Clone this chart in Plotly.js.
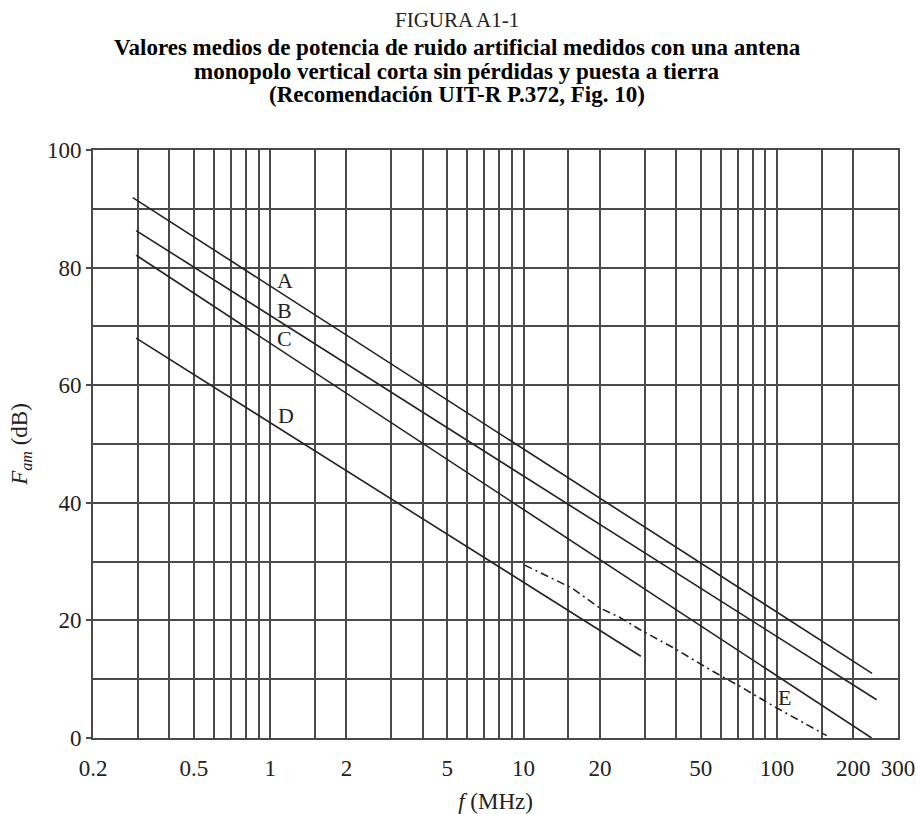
<!DOCTYPE html>
<html>
<head>
<meta charset="utf-8">
<script src="https://cdn.plot.ly/plotly-3.0.1.min.js"></script>
<style>html,body{margin:0;padding:0;background:#fff;}#chart{width:916px;height:814px;}</style>
</head>
<body>
<div id="chart"></div>
<script>
// ---- data ----
const freqA = [0.287, 237];
const famA  = [91.9, 11.0];
const freqB = [0.296, 247];
const famB  = [86.3, 6.5];
const freqC = [0.296, 236];
const famC  = [82.1, 0.0];
const freqD = [0.296, 29];
const famD  = [68.0, 13.9];
const freqE = [10.1, 15.5, 20, 24, 28.6, 38.8, 56, 71.3, 98, 143, 157];
const famE  = [29.4, 25.5, 22.1, 20.5, 18.5, 15.4, 11.3, 8.8, 5.3, 1.4, 0.4];

const curveNames = ['A', 'B', 'C', 'D', 'E'];
const curveLabelX = [1.14, 1.14, 1.14, 1.15, 107];
const curveLabelY = [77.8, 72.7, 68.0, 54.9, 6.9];

const xGridVals = [0.2, 0.3, 0.4, 0.5, 0.6, 0.7, 0.8, 0.9, 1, 1.5, 2, 3, 4, 5, 6, 7, 8, 9, 10,
                   15, 20, 30, 40, 50, 60, 70, 80, 90, 100, 150, 200, 300];
const xTickLabels = {0.2:'0.2', 0.5:'0.5', 1:'1', 2:'2', 5:'5', 10:'10', 20:'20', 50:'50', 100:'100', 200:'200', 300:'300'};
const yTickVals = [0, 20, 40, 60, 80, 100];
const yTickText = ['0', '20', '40', '60', '80', '100'];
const yMinorVals = [10, 30, 50, 70, 90];

const figTitle = 'FIGURA A1-1';
const titleLines = [
  'Valores medios de potencia de ruido artificial medidos con una antena',
  'monopolo vertical corta sin pérdidas y puesta a tierra',
  '(Recomendación UIT-R P.372, Fig. 10)'
];
const refLabel = 'Report 2158-A1-01';

// ---- drawing ----
const FONT = 'Liberation Serif, Times New Roman, serif';
const INK = '#222';
const lineStyle = {color: INK, width: 1.6};
const PLOT_LEFT = 93, PLOT_RIGHT = 898, PLOT_TOP = 150, PLOT_BOTTOM = 738;
const pyToPaper = py => (PLOT_BOTTOM - py) / (PLOT_BOTTOM - PLOT_TOP);
const pxToPaper = px => (px - PLOT_LEFT) / (PLOT_RIGHT - PLOT_LEFT);

const traces = [
  {x: freqA, y: famA, mode: 'lines', line: lineStyle, name: 'A'},
  {x: freqB, y: famB, mode: 'lines', line: lineStyle, name: 'B'},
  {x: freqC, y: famC, mode: 'lines', line: lineStyle, name: 'C'},
  {x: freqD, y: famD, mode: 'lines', line: lineStyle, name: 'D'},
  {x: freqE, y: famE, mode: 'lines', line: {color: INK, width: 1.6, dash: '8px,4px,2px,4px'}, name: 'E'}
];

const annotations = [];
curveNames.forEach((n, i) => {
  annotations.push({x: Math.log10(curveLabelX[i]), y: curveLabelY[i], xref: 'x', yref: 'y',
    text: n, showarrow: false, xanchor: 'center', yanchor: 'middle',
    font: {family: FONT, size: 22, color: INK}});
});
const TITLE_CX = pxToPaper(457);
annotations.push({x: TITLE_CX, y: pyToPaper(20), xref: 'paper', yref: 'paper', yanchor: 'middle',
  text: figTitle, showarrow: false, font: {family: FONT, size: 21, color: INK}});
const titleY = [48, 71.5, 95];
titleLines.forEach((t, i) => {
  annotations.push({x: TITLE_CX, xref: 'paper', y: pyToPaper(titleY[i]), yref: 'paper', yanchor: 'middle',
    text: '<b>' + t + '</b>', showarrow: false, font: {family: FONT, size: 23, color: '#000'}});
});
annotations.push({x: pxToPaper(770), y: pyToPaper(808), xref: 'paper', yref: 'paper',
  xanchor: 'left', yanchor: 'top', text: refLabel, showarrow: false,
  font: {family: FONT, size: 20, color: INK}});

const GRID = '#4a4a4a';
const layout = {
  width: 916, height: 814,
  margin: {l: PLOT_LEFT, r: 916 - PLOT_RIGHT, t: PLOT_TOP, b: 814 - PLOT_BOTTOM},
  paper_bgcolor: '#fff', plot_bgcolor: '#fff',
  showlegend: false,
  font: {family: FONT, color: INK, size: 23},
  xaxis: {
    type: 'log', range: [Math.log10(0.2), Math.log10(300)],
    tickmode: 'array', tickvals: xGridVals,
    ticktext: xGridVals.map(v => xTickLabels[v] || ''),
    showgrid: true, gridcolor: GRID, gridwidth: 2,
    showline: true, linecolor: GRID, linewidth: 2, mirror: true,
    ticks: '', ticklabelstandoff: 8, zeroline: false,
    tickfont: {family: FONT, size: 23, color: INK},
    title: {text: '<i>f</i> (MHz)', font: {family: FONT, size: 23, color: INK}, standoff: 16}
  },
  yaxis: {
    range: [0, 100], tickmode: 'array', tickvals: yTickVals, ticktext: yTickText,
    showgrid: true, gridcolor: GRID, gridwidth: 2,
    minor: {tickmode: 'array', tickvals: yMinorVals, showgrid: true, gridcolor: GRID, gridwidth: 2, ticks: ''},
    showline: true, linecolor: GRID, linewidth: 2, mirror: true,
    ticks: 'outside', ticklen: 5, tickcolor: GRID, tickwidth: 2, zeroline: false,
    tickfont: {family: FONT, size: 23, color: INK},
    title: {text: '<i>F<sub>am</sub></i> (dB)', font: {family: FONT, size: 23, color: INK}, standoff: 13}
  },
  annotations: annotations
};

Plotly.newPlot('chart', traces, layout, {displayModeBar: false, staticPlot: true});
</script>
</body>
</html>
